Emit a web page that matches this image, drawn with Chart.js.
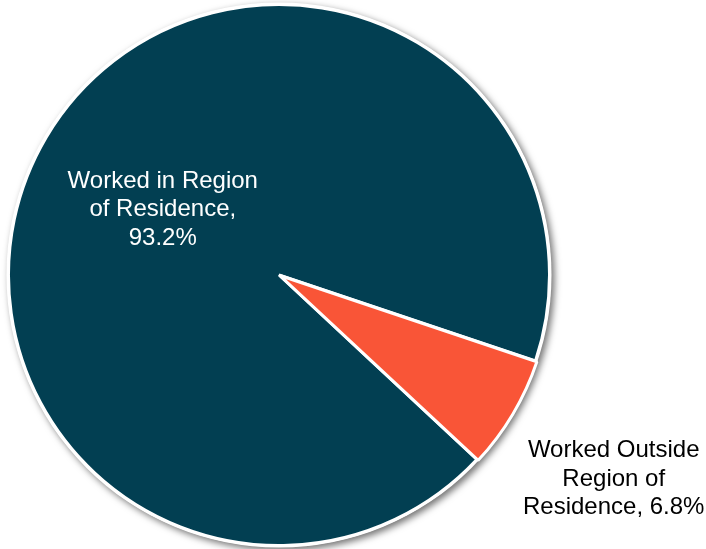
<!DOCTYPE html>
<html>
<head>
<meta charset="utf-8">
<script src="https://cdn.jsdelivr.net/npm/chart.js@4"></script>
<style>
  html, body { margin: 0; padding: 0; background: #fff; }
  #wrap { width: 706px; height: 549px; }
</style>
</head>
<body>
<div id="wrap"><canvas id="residence_pie"></canvas></div>
<script>
// Share of workers by where they worked
const categories = ["Worked in Region of Residence", "Worked Outside Region of Residence"];
const shares = [93.2, 6.8];
const sliceColors = ["#023f52", "#f95537"];
const labelLines = [
  ["Worked in Region", "of Residence,", "93.2%"],
  ["Worked Outside", "Region of", "Residence, 6.8%"]
];

// soft shadow under the whole pie
const pieShadow = {
  id: "pieShadow",
  beforeDatasetsDraw(chart) {
    const arc = chart.getDatasetMeta(0).data[0];
    if (!arc) return;
    const ctx = chart.ctx;
    ctx.save();
    ctx.shadowColor = "rgba(0,0,0,0.55)";
    ctx.shadowBlur = 7;
    ctx.shadowOffsetX = 3;
    ctx.shadowOffsetY = 3;
    ctx.fillStyle = "#fff";
    ctx.beginPath();
    ctx.arc(arc.x, arc.y, arc.outerRadius + 2, 0, Math.PI * 2);
    ctx.fill();
    ctx.restore();
  }
};

// slice labels: inside the big slice, outside the small one
const sliceLabels = {
  id: "sliceLabels",
  afterDatasetsDraw(chart) {
    const ctx = chart.ctx;
    const meta = chart.getDatasetMeta(0);
    ctx.save();
    ctx.font = "24px 'Liberation Sans', Arial, sans-serif";
    ctx.textAlign = "center";
    ctx.textBaseline = "middle";
    const lh = 28.5;
    meta.data.forEach((arc, i) => {
      const p = arc.getProps(["x", "y", "startAngle", "endAngle", "outerRadius"], true);
      const mid = (p.startAngle + p.endAngle) / 2;
      const dist = i === 0 ? p.outerRadius * 0.5 : p.outerRadius * 1.44;
      const cx = p.x + Math.cos(mid) * dist;
      const cy = p.y + Math.sin(mid) * dist + (i === 0 ? 4 : 5);
      ctx.fillStyle = i === 0 ? "#ffffff" : "#000000";
      const lines = labelLines[i];
      lines.forEach((t, k) => {
        ctx.fillText(t, cx, cy + (k - (lines.length - 1) / 2) * lh);
      });
    });
    ctx.restore();
  }
};

new Chart(document.getElementById("residence_pie"), {
  type: "pie",
  data: {
    labels: categories,
    datasets: [{
      data: shares,
      backgroundColor: sliceColors,
      borderColor: "#ffffff",
      borderWidth: 3,
      offset: [0, 4]
    }]
  },
  options: {
    responsive: true,
    maintainAspectRatio: false,
    animation: false,
    rotation: 133,
    layout: { padding: { left: 4, right: 152, top: 1, bottom: -2 } },
    plugins: {
      legend: { display: false },
      tooltip: { enabled: false }
    }
  },
  plugins: [pieShadow, sliceLabels]
});
</script>
</body>
</html>
